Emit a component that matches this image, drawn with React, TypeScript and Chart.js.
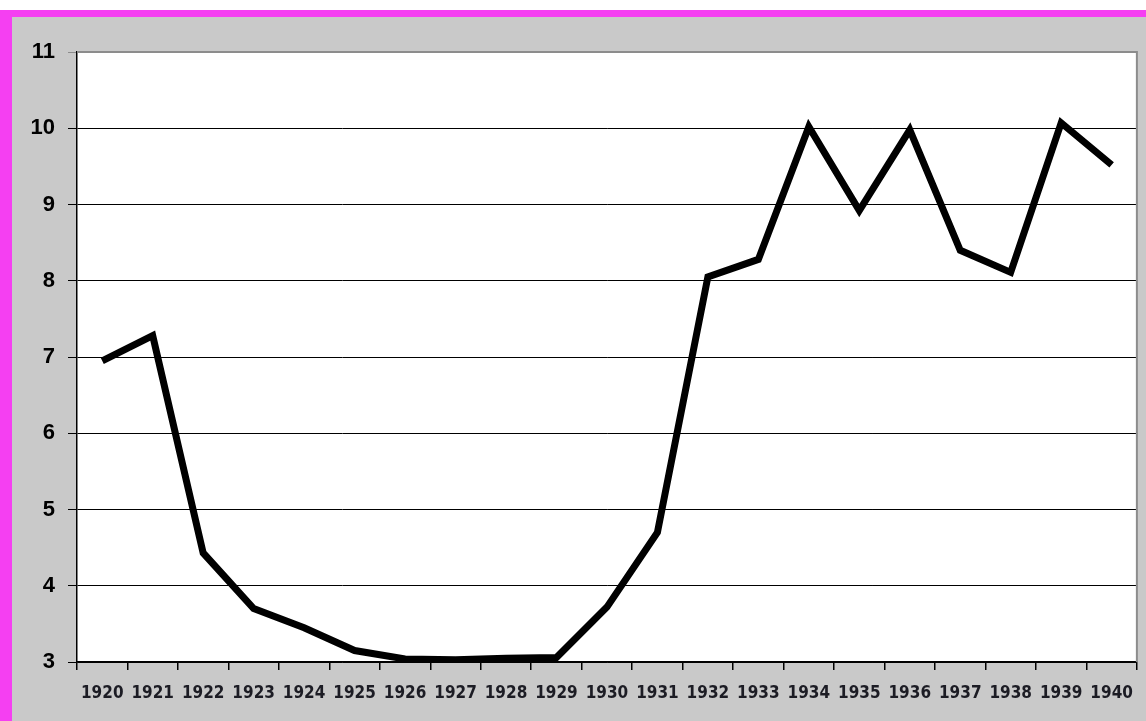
import React, { useEffect, useRef } from "react";
import { Chart, registerables } from "chart.js";

Chart.register(...registerables);

const years = [
  "1920", "1921", "1922", "1923", "1924", "1925", "1926", "1927", "1928", "1929", "1930",
  "1931", "1932", "1933", "1934", "1935", "1936", "1937", "1938", "1939", "1940",
];

const values = [
  6.95, 7.28, 4.43, 3.7, 3.45, 3.15, 3.04, 3.03, 3.05, 3.06, 3.72,
  4.7, 8.05, 8.28, 10.02, 8.92, 9.98, 8.4, 8.11, 10.07, 9.52,
];

const yMin = 3;
const yMax = 11;
const yStep = 1;

const plotBg = {
  id: "plotBg",
  beforeDraw(chart: any) {
    const { ctx, chartArea } = chart;
    ctx.save();
    ctx.fillStyle = "#ffffff";
    ctx.fillRect(chartArea.left, chartArea.top, chartArea.right - chartArea.left, chartArea.bottom - chartArea.top);
    ctx.restore();
  },
  afterDraw(chart: any) {
    const { ctx, chartArea } = chart;
    ctx.save();
    ctx.strokeStyle = "#8c8c8c";
    ctx.lineWidth = 2;
    ctx.beginPath();
    ctx.moveTo(chartArea.left, chartArea.top);
    ctx.lineTo(chartArea.right, chartArea.top);
    ctx.lineTo(chartArea.right, chartArea.bottom);
    ctx.stroke();
    ctx.restore();
  },
};

export default function App() {
  const ref = useRef<HTMLCanvasElement | null>(null);

  useEffect(() => {
    if (!ref.current) return;
    const chart = new Chart(ref.current, {
      type: "line",
      data: {
        labels: years,
        datasets: [
          {
            data: values,
            borderColor: "#000000",
            borderWidth: 7,
            pointRadius: 0,
            tension: 0,
            fill: false,
          },
        ],
      },
      options: {
        animation: false,
        responsive: false,
        devicePixelRatio: 1,
        layout: { padding: { left: 17, top: 52, right: 3, bottom: 9 } },
        plugins: { legend: { display: false }, tooltip: { enabled: false } },
        scales: {
          x: {
            offset: true,
            afterFit(scale: any) {
              scale.height = 50;
            },
            grid: {
              offset: true,
              drawOnChartArea: false,
              drawTicks: true,
              tickLength: 8,
              color: "#000000",
              lineWidth: 1.5,
            },
            border: { color: "#000000", width: 1.5 },
            ticks: {
              color: "#1c1c24",
              padding: 13,
              maxRotation: 0,
              autoSkip: false,
              font: { family: "'DejaVu Sans Condensed', 'Liberation Sans Narrow', sans-serif", size: 17, weight: "bold" },
            },
          },
          y: {
            min: yMin,
            max: yMax,
            afterFit(scale: any) {
              scale.width = 60;
            },
            grid: {
              color: (c: any) => (c.tick && c.tick.value === yMax ? "#8c8c8c" : "#000000"),
              lineWidth: 1,
              drawTicks: true,
              tickLength: 9,
            },
            border: { color: "#000000", width: 1.5 },
            ticks: {
              stepSize: yStep,
              color: "#000000",
              padding: 13,
              font: { family: "'Liberation Sans', Arial, sans-serif", size: 22, weight: "bold" },
            },
          },
        },
      },
      plugins: [plotBg],
    });
    return () => chart.destroy();
  }, []);

  return (
    <div style={{ position: "absolute", left: 0, top: 0, width: 1146, height: 721, background: "#ffffff", overflow: "hidden" }}>
      <div
        style={{
          position: "absolute",
          left: 0,
          top: 10,
          width: 1146,
          height: 711,
          boxSizing: "border-box",
          borderTop: "7px solid #f53ff2",
          borderLeft: "12px solid #f53ff2",
          background: "#c9c9c9",
        }}
      />
      <canvas ref={ref} width={1146} height={721} style={{ position: "absolute", left: 0, top: 0, display: "block" }} />
    </div>
  );
}
